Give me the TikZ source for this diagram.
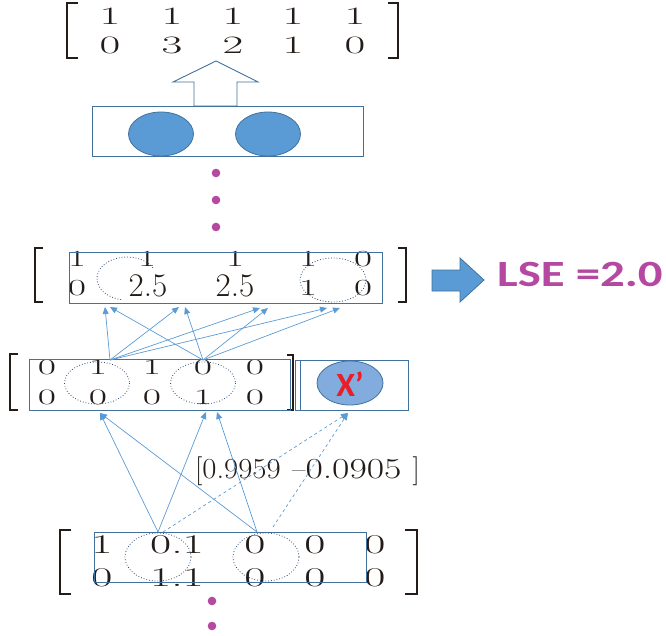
\documentclass[tikz,border=0pt]{standalone}
\usepackage{fontspec}
\newfontfamily\carlito{Carlito}
\usetikzlibrary{arrows.meta,calc}
\definecolor{edge}{RGB}{65,113,156}
\definecolor{lineblue}{RGB}{91,155,213}
\definecolor{fillblue}{RGB}{91,155,213}
\definecolor{lightfill}{RGB}{130,172,222}
\definecolor{purp}{RGB}{181,72,160}
\definecolor{xred}{RGB}{232,30,40}
\definecolor{dotc}{RGB}{45,75,125}
\definecolor{brk}{RGB}{35,28,24}
\newcommand\sx[2]{\scalebox{#1}[1]{#2}}
\begin{document}
\begin{tikzpicture}[x=1pt,y=-1pt,
  box/.style={draw=edge, line width=1pt},
  bracket/.style={draw=brk, line width=1.7pt},
  numA/.style={inner sep=0pt, text=brk, font=\fontsize{25}{25}\selectfont},
  numB/.style={inner sep=0pt, text=brk, font=\fontsize{23}{23}\selectfont},
  numBig/.style={inner sep=0pt, text=brk, font=\fontsize{33}{33}\selectfont},
  numC/.style={inner sep=0pt, text=brk, font=\fontsize{22}{22}\selectfont},
  numD/.style={inner sep=0pt, text=brk, font=\fontsize{27}{27}\selectfont},
  vlab/.style={inner sep=0pt, text=brk, font=\fontsize{29}{29}\selectfont},
  dotell/.style={draw=dotc, dotted, line width=0.8pt},
  solidell/.style={draw=edge, fill=fillblue, line width=0.8pt},
  conn/.style={draw=lineblue, line width=0.7pt, -{Triangle[length=7pt,width=6pt]}},
  dconn/.style={conn, dashed},
  pdot/.style={fill=purp, draw=none}
]
\useasboundingbox (0,0) rectangle (666,636);

% ---------- top matrix ----------
\foreach \x/\n [count=\i] in {110/1,172/1,233/1,293/1,355/1}
  \node[numA] (ta\i) at (\x,16) {\sx{1.8}{\n}};
\foreach \x/\n [count=\i] in {110/0,172/3,233/2,293/1,355/0}
  \node[numA] (tb\i) at (\x,45) {\sx{1.8}{\n}};
\draw[bracket] (78,3) -- (67,3) -- (67,58) -- (78,58);
\draw[bracket] (388,3) -- (398,3) -- (398,58) -- (388,58);

% hollow arrow
\draw[edge, line width=0.9pt, fill=white] (194,106) -- (194,82) -- (173,82) -- (216,61) -- (258,82) -- (237,82) -- (237,106) -- cycle;

% top box with ellipses
\draw[box] (92,107) rectangle (363,157);
\draw[solidell] (161,134) ellipse[x radius=32.5, y radius=22];
\draw[solidell] (268,134) ellipse[x radius=32.5, y radius=22];

% dots
\fill[pdot] (216,173) circle[radius=4.3];
\fill[pdot] (216,200) circle[radius=4.3];
\fill[pdot] (216,227) circle[radius=4.3];

% ---------- LSE matrix ----------
\node[numB] (la1) at (77,259) {\sx{1.7}{1}};
\node[numB] (la2) at (147,259) {\sx{1.7}{1}};
\node[numB] (la3) at (235,259) {\sx{1.7}{1}};
\node[numB] (la4) at (308,259) {\sx{1.7}{1}};
\node[numB] (la5) at (363,259) {\sx{1.7}{0}};
\node[numB] (lb1) at (77,288) {\sx{1.7}{0}};
\node[numBig] (lb2) at (148,286) {2.5};
\node[numBig] (lb3) at (235,286) {2.5};
\node[numB] (lb4) at (308,288) {\sx{1.7}{1}};
\node[numB] (lb5) at (363,288) {\sx{1.7}{0}};
\draw[bracket] (43,248) -- (35,248) -- (35,302) -- (43,302);
\draw[bracket] (398,248) -- (406,248) -- (406,302) -- (398,302);
\draw[box] (69,253) rectangle (382,303);
\draw[dotell] ($(127,278.5)+(-30:30 and 21.5)$) arc[start angle=-30, end angle=-262, x radius=30, y radius=21.5];
\draw[dotell] (333,280) ellipse[x radius=33, y radius=22];

% LSE block arrow and text
\draw[edge, fill=fillblue, line width=0.8pt] (432,270) -- (460,270) -- (460,258) -- (484,280) -- (460,302) -- (460,291) -- (432,291) -- cycle;
\node[anchor=west, inner sep=0pt, text=purp, font=\carlito\bfseries\fontsize{37}{37}\selectfont] (lse) at (497,274) {\sx{1.32}{LSE =2.0}};

% ---------- middle matrix ----------
\foreach \x/\n [count=\i] in {47/0,98/1,152/1,203/0,255/0}
  \node[numC] (ma\i) at (\x,367) {\sx{1.8}{\n}};
\foreach \x/\n [count=\i] in {47/0,98/0,152/0,203/1,255/0}
  \node[numC] (mb\i) at (\x,397) {\sx{1.8}{\n}};
\draw[bracket] (18,354) -- (10,354) -- (10,410) -- (18,410);
\draw[bracket] (287,355) -- (293,355) -- (293,410) -- (287,410);
\draw[box] (29,359) rectangle (290,410);
\draw[dotell] (97,383) ellipse[x radius=32.5, y radius=21];
\draw[dotell] (203,383) ellipse[x radius=32.5, y radius=21];

% X' box
\draw[box] (295,360) rectangle (408,410);
\draw[edge, line width=0.9pt] (300,360) -- (300,410);
\draw[edge, fill=lightfill, line width=0.8pt] (350,383) ellipse[x radius=33, y radius=22];
\node[inner sep=0pt, text=xred, font=\carlito\bfseries\fontsize{34}{34}\selectfont] (xp) at (350,384) {X’};

% ---------- vector label ----------
\node[vlab, anchor=base west] (vec1) at (195,478) {[\sx{1.06}{0.9959}};
\node[vlab, anchor=base west] (vec2) at (292,478) {--\sx{1.3}{0.0905}};
\node[vlab, anchor=base east] (vec3) at (420,478) {]};

% ---------- bottom matrix ----------
\foreach \x/\n [count=\i] in {102/1,177/0.1,255/0,315/0,375/0}
  \node[numD] (ba\i) at (\x,545) {\sx{1.7}{\n}};
\foreach \x/\n [count=\i] in {102/0,177/1.1,255/0,315/0,375/0}
  \node[numD] (bb\i) at (\x,578) {\sx{1.7}{\n}};
\draw[bracket] (71,530) -- (60,530) -- (60,594) -- (71,594);
\draw[bracket] (405,530) -- (417,530) -- (417,594) -- (405,594);
\draw[box] (94,532) rectangle (366,582);
\draw[dotell] (158,557) ellipse[x radius=33, y radius=24];
\draw[dotell] (266,557) ellipse[x radius=33, y radius=24];

\fill[pdot] (212,601) circle[radius=4.3];
\fill[pdot] (212,626) circle[radius=4.3];

% ---------- connectors: middle -> LSE ----------
\coordinate (L1) at (110,360);
\coordinate (R1) at (203,360);
\coordinate (a1) at (105,307);
\coordinate (a2) at (110,307);
\coordinate (a3) at (179,307);
\coordinate (a4) at (185,307);
\coordinate (a5) at (260,308);
\coordinate (a6) at (268,308);
\coordinate (a7) at (327,308);
\coordinate (a8) at (340,308);
\foreach \t in {a1,a3,a5,a7} \draw[conn] (L1) -- (\t);
\foreach \t in {a2,a4,a6,a8} \draw[conn] (R1) -- (\t);

% ---------- connectors: bottom -> middle ----------
\coordinate (S1) at (158,532);
\coordinate (S2) at (257,532);
\coordinate (D1) at (163,532);
\coordinate (D2) at (273,527);
\coordinate (m1) at (100,413);
\coordinate (m2) at (206,412);
\coordinate (m3) at (217,412);
\coordinate (xt) at (348,413);
\draw[conn] (S1) -- (m1);
\draw[conn] (S1) -- (m2);
\draw[conn] (S2) -- (m1);
\draw[conn] (S2) -- (m3);
\draw[dconn] (D1) -- (xt);
\draw[dconn] (D2) -- (xt);
\end{tikzpicture}
\end{document}
